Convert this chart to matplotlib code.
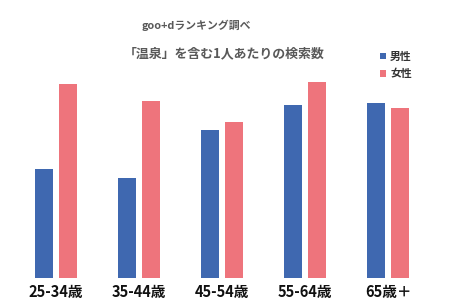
import numpy as np
import matplotlib.pyplot as plt

plt.rcParams['font.family'] = ['Noto Sans CJK JP', 'DejaVu Sans']

categories = ["25-34歳", "35-44歳", "45-54歳", "55-64歳", "65歳＋"]
male = [108.7, 99.7, 148.3, 172.7, 175.3]
female = [193.7, 177.3, 155.7, 195.7, 169.7]

blue = "#3F68B0"
pink = "#EE747C"

fig = plt.figure(figsize=(4.5, 3), dpi=100)
ax = fig.add_axes([14.5 / 450, 22 / 300, 415 / 450, 200 / 300])

x = np.arange(len(categories))
w = 0.223
off = 0.142
ax.bar(x - off, male, w, color=blue, label="男性")
ax.bar(x + off, female, w, color=pink, label="女性")

ax.set_xlim(-0.5, 4.5)
ax.set_ylim(0, 200)
ax.set_xticks(x)
ax.set_xticklabels(categories, fontsize=10.5, fontweight="bold", color="#111111")
ax.tick_params(axis="x", length=0, pad=4)
ax.set_yticks([])
for s in ax.spines.values():
    s.set_visible(False)

# titles
fig.text(196.5 / 450, 1 - 25 / 300, "goo+dランキング調べ", ha="center", va="center",
         fontsize=7.8, fontweight="bold", color="#595959")
fig.text(224 / 450, 1 - 53.5 / 300, "「温泉」を含む1人あたりの検索数", ha="center", va="center",
         fontsize=9.3, fontweight="bold", color="#595959")

leg = fig.legend(loc="upper left", bbox_to_anchor=(370 / 450, 1 - 42 / 300), frameon=False,
                 fontsize=7.8, handlelength=0.55, handleheight=0.55, handletextpad=0.4,
                 labelspacing=0.65)
for t in leg.get_texts():
    t.set_color("#333333")
    t.set_fontweight("bold")

fig.savefig("out.png", dpi=100)
